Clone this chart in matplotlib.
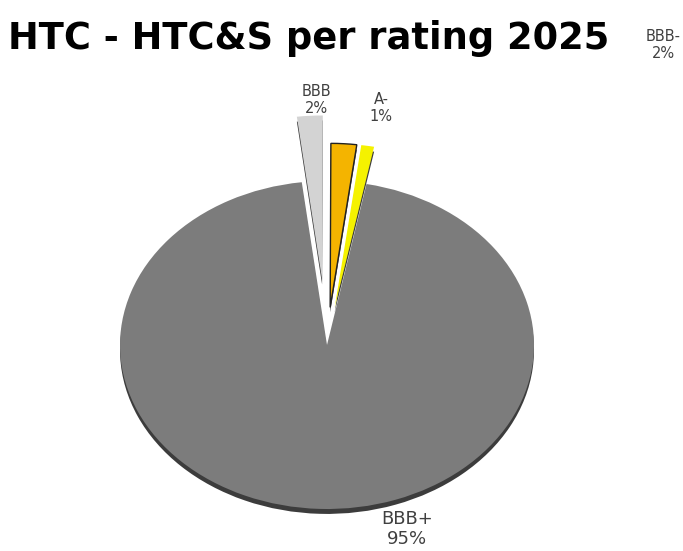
import numpy as np
import matplotlib.pyplot as plt

# rating shares, clockwise from the top-left
ratings = ['BBB', 'BBB-', 'A-', 'BBB+']
shares = [2, 2, 1, 95]
colors = ['#d3d3d3', '#f4b400', '#f5f200', '#7c7c7c']
explode = [0.4, 0.23, 0.23, 0.0]

fig = plt.figure(figsize=(6.83, 5.51), dpi=100)
ax = fig.add_axes([0, 0, 1, 1])

# dark rim under the disc for the tilted look
ax.pie(shares, colors=['#3c3c3c'] * 4, explode=explode, startangle=97,
       counterclock=False, center=(0, -0.03), radius=1.0)
wedges, _ = ax.pie(shares, colors=colors, explode=explode, startangle=97,
                   counterclock=False, radius=1.0)
wedges[1].set_edgecolor('#222222')
wedges[1].set_linewidth(1.0)

# one unit = 207 px wide, 164 px high, centre at (327, 345)
cx, cy, rx, ry = 327, 345, 207, 164
ax.set_aspect('auto')
ax.set_xlim(-cx / rx, (683 - cx) / rx)
ax.set_ylim(-(551 - cy) / ry, cy / ry)
ax.axis('off')

fig.text(0.012, 0.93, 'HTC - HTC&S per rating 2025', fontsize=26.5,
         fontweight='bold', ha='left', va='center', color='black')

lab = dict(fontsize=10.5, color='#404040', ha='center', va='center',
           linespacing=1.15)
fig.text(663 / 683, 1 - 45 / 551, f'{ratings[1]}\n{shares[1]}%', **lab)
fig.text(316 / 683, 1 - 100 / 551, f'{ratings[0]}\n{shares[0]}%', **lab)
fig.text(381 / 683, 1 - 108 / 551, f'{ratings[2]}\n{shares[2]}%', **lab)
fig.text(407 / 683, 1 - 529 / 551, f'{ratings[3]}\n{shares[3]}%', fontsize=13,
         color='#404040', ha='center', va='center', linespacing=1.15)

fig.savefig('out.png', dpi=100, facecolor='white')
